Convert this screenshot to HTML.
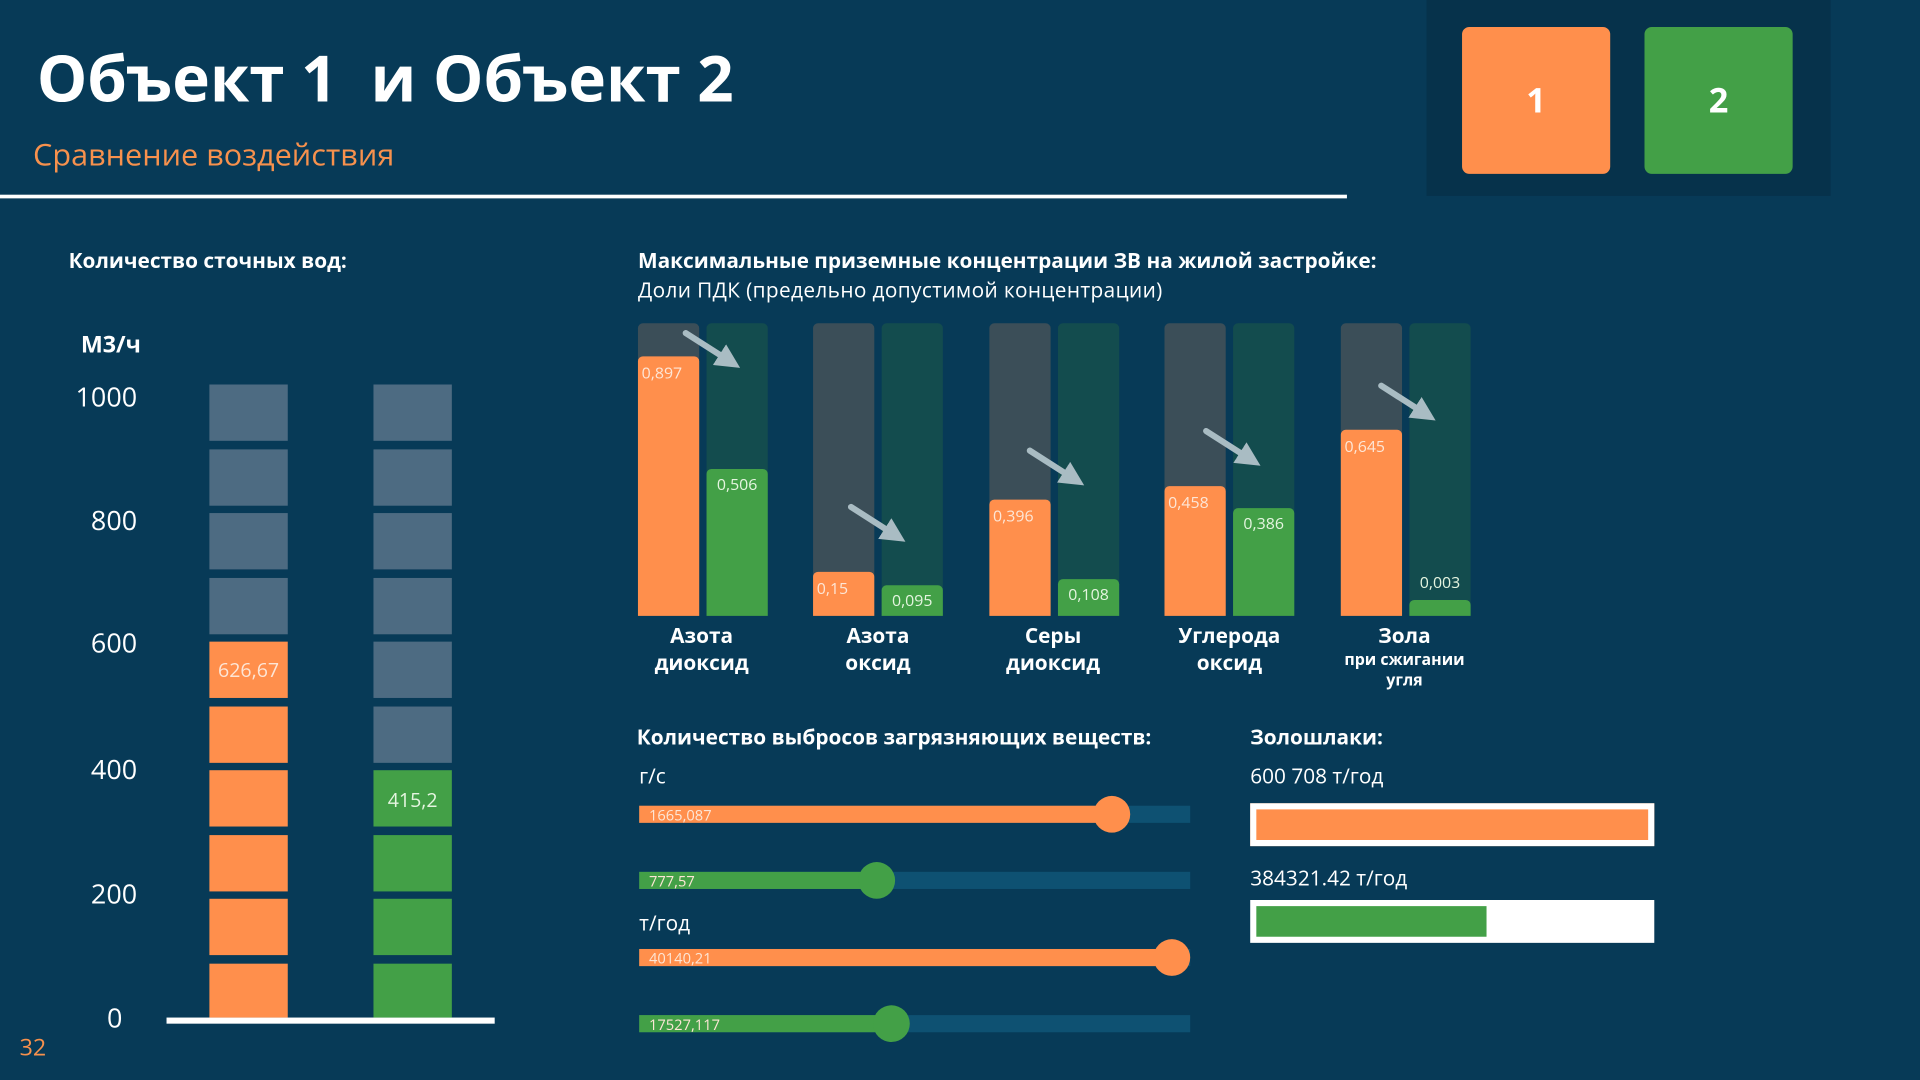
<!DOCTYPE html>
<html><head><meta charset="utf-8"><style>
body{margin:0;width:1920px;height:1080px;overflow:hidden;background:#073a57;}
#s{position:absolute;left:0;top:0;width:1568px;height:882px;transform:scale(1.22449);transform-origin:0 0;font-family:"Open Sans","Liberation Sans","DejaVu Sans",sans-serif;color:#fff;}
.a{position:absolute;}
.b{font-weight:bold;}
.blk{position:absolute;width:64px;height:46px;}
.g{background:#4d6b82}.o{background:#ff8f4c}.gr{background:#43a047}
.cat{position:absolute;width:120px;text-align:center;font-weight:bold;font-size:17px;line-height:22px;}
.trk{position:absolute;left:522px;width:450px;height:14px;background:#0e5172;}
.knob{position:absolute;width:30px;height:30px;border-radius:50%;}
.v{position:absolute;font-size:12px;color:#fde6d6;}
</style></head><body><div id="s">
<div class="a b" style="left:30px;top:28px;font-size:52px;">Объект 1&nbsp; и Объект 2</div>
<div class="a" style="left:27px;top:109px;font-size:25px;color:#f7914d;">Сравнение воздействия</div>
<div class="a" style="left:0;top:159px;width:1100px;height:3px;background:#fff"></div>
<div class="a" style="left:1165px;top:0;width:330px;height:160px;background:#06324b"></div>
<div class="a b" style="left:1194px;top:22px;width:121px;height:120px;background:#ff8f4c;border-radius:6px;text-align:center;line-height:120px;font-size:28px">1</div>
<div class="a b" style="left:1343px;top:22px;width:121px;height:120px;background:#43a047;border-radius:6px;text-align:center;line-height:120px;font-size:28px">2</div>

<div class="a b" style="left:56px;top:201px;font-size:17px">Количество сточных вод:</div>
<div class="a b" style="left:66px;top:268px;font-size:19px">М3/ч</div>
<div class="a" style="left:40px;top:310px;width:72px;text-align:right;font-size:22px;line-height:28px">1000</div>
<div class="a" style="left:40px;top:411px;width:72px;text-align:right;font-size:22px;line-height:28px">800</div>
<div class="a" style="left:40px;top:511px;width:72px;text-align:right;font-size:22px;line-height:28px">600</div>
<div class="a" style="left:40px;top:614px;width:72px;text-align:right;font-size:22px;line-height:28px">400</div>
<div class="a" style="left:40px;top:716px;width:72px;text-align:right;font-size:22px;line-height:28px">200</div>
<div class="a" style="left:40px;top:817px;width:60px;text-align:right;font-size:22px;line-height:28px">0</div>
<div class="a" style="left:136px;top:831px;width:268px;height:5px;background:#fff"></div>
<div class="a" style="left:16px;top:842px;font-size:19px;color:#f7914d">32</div>

<div class="blk g" style="left:171px;top:314px"></div><div class="blk g" style="left:171px;top:367px"></div><div class="blk g" style="left:171px;top:419px"></div><div class="blk g" style="left:171px;top:472px"></div>
<div class="blk o" style="left:171px;top:524px;text-align:center;line-height:46px;font-size:16px;color:#fde6d6">626,67</div>
<div class="blk o" style="left:171px;top:577px"></div><div class="blk o" style="left:171px;top:629px"></div><div class="blk o" style="left:171px;top:682px"></div><div class="blk o" style="left:171px;top:734px"></div><div class="blk o" style="left:171px;top:787px;height:44px"></div>
<div class="blk g" style="left:305px;top:314px"></div><div class="blk g" style="left:305px;top:367px"></div><div class="blk g" style="left:305px;top:419px"></div><div class="blk g" style="left:305px;top:472px"></div><div class="blk g" style="left:305px;top:524px"></div><div class="blk g" style="left:305px;top:577px"></div>
<div class="blk gr" style="left:305px;top:629px;text-align:center;line-height:48px;font-size:16px;color:#e5f5e0">415,2</div>
<div class="blk gr" style="left:305px;top:682px"></div><div class="blk gr" style="left:305px;top:734px"></div><div class="blk gr" style="left:305px;top:787px;height:44px"></div>

<div class="a b" style="left:521px;top:201px;font-size:17px">Максимальные приземные концентрации ЗВ на жилой застройке:</div>
<div class="a" style="left:521px;top:225px;font-size:17px;letter-spacing:0.3px">Доли ПДК (предельно допустимой концентрации)</div>

<div id="bc"></div>
<svg class="a" style="left:0;top:0" width="1568" height="882">
<defs><marker id="m" markerWidth="4" markerHeight="4" refX="2" refY="2" orient="auto" markerUnits="strokeWidth"><path d="M0,0 L4,2 L0,4 z" fill="#a9bcc3"/></marker></defs>
<g stroke="#a9bcc3" stroke-width="5" stroke-linecap="round" marker-end="url(#m)">
<line x1="560" y1="272" x2="596" y2="295"/>
<line x1="695" y1="414" x2="731" y2="437"/>
<line x1="841" y1="368" x2="877" y2="391"/>
<line x1="985" y1="352" x2="1021" y2="375"/>
<line x1="1128" y1="315" x2="1164" y2="338"/>
</g>
</svg>

<div class="cat" style="left:513px;top:508px">Азота<br>диоксид</div>
<div class="cat" style="left:657px;top:508px">Азота<br>оксид</div>
<div class="cat" style="left:800px;top:508px">Серы<br>диоксид</div>
<div class="cat" style="left:944px;top:508px">Углерода<br>оксид</div>
<div class="cat" style="left:1087px;top:508px">Зола<div style="font-size:13px;line-height:17px">при сжигании<br>угля</div></div>

<div class="a b" style="left:520px;top:590px;font-size:17px">Количество выбросов загрязняющих веществ:</div>
<div class="a" style="left:522px;top:622px;font-size:17px">г/с</div>
<div class="a" style="left:522px;top:742px;font-size:17px">т/год</div>
<div class="trk" style="top:658px"></div><div class="a o" style="left:522px;top:658px;width:386px;height:14px"></div><div class="knob o" style="left:893px;top:650px"></div><div class="v" style="left:530px;top:657px">1665,087</div>
<div class="trk" style="top:712px"></div><div class="a gr" style="left:522px;top:712px;width:194px;height:14px"></div><div class="knob gr" style="left:701px;top:704px"></div><div class="v" style="left:530px;top:711px">777,57</div>
<div class="trk" style="top:775px"></div><div class="a o" style="left:522px;top:775px;width:435px;height:14px"></div><div class="knob o" style="left:942px;top:767px"></div><div class="v" style="left:530px;top:774px">40140,21</div>
<div class="trk" style="top:829px"></div><div class="a gr" style="left:522px;top:829px;width:206px;height:14px"></div><div class="knob gr" style="left:713px;top:821px"></div><div class="v" style="left:530px;top:828px">17527,117</div>

<div class="a b" style="left:1021px;top:590px;font-size:17px">Золошлаки:</div>
<div class="a" style="left:1021px;top:622px;font-size:17px">600 708 т/год</div>
<div class="a" style="left:1021px;top:656px;width:320px;height:25px;border:5px solid #fff;background:#ff8f4c"></div>
<div class="a" style="left:1021px;top:705px;font-size:17px">384321.42 т/год</div>
<div class="a" style="left:1021px;top:735px;width:330px;height:35px;background:#fff"></div>
<div class="a gr" style="left:1026px;top:740px;width:188px;height:25px"></div>
</div>
<script>
var g=[[521,291,'0,897',383,'0,506'],[664,467,'0,15',478,'0,095'],[808,408,'0,396',473,'0,108'],[951,397,'0,458',415,'0,386'],[1095,351,'0,645',490,'0,003']];
var h='';
g.forEach(function(d){
var x=d[0];
h+='<div class="a" style="left:'+x+'px;top:264px;width:50px;height:239px;background:#3b4e58;border-radius:4px 4px 0 0"></div>';
h+='<div class="a" style="left:'+(x+56)+'px;top:264px;width:50px;height:239px;background:#134c4e;border-radius:4px 4px 0 0"></div>';
h+='<div class="a o" style="left:'+x+'px;top:'+d[1]+'px;width:50px;height:'+(503-d[1])+'px;border-radius:4px 4px 0 0"></div>';
h+='<div class="a gr" style="left:'+(x+56)+'px;top:'+d[3]+'px;width:50px;height:'+(503-d[3])+'px;border-radius:4px 4px 0 0"></div>';
h+='<div class="v" style="left:'+(x+3)+'px;top:'+(d[1]+4)+'px;font-size:13px">'+d[2]+'</div>';
var ty=d[3]+3; if(503-d[3]<20) ty=d[3]-24;
h+='<div class="v" style="left:'+(x+56)+'px;width:50px;text-align:center;top:'+ty+'px;font-size:13px;color:#e5f5e0">'+d[4]+'</div>';
});
document.getElementById('bc').innerHTML=h;
</script>
</body></html>
